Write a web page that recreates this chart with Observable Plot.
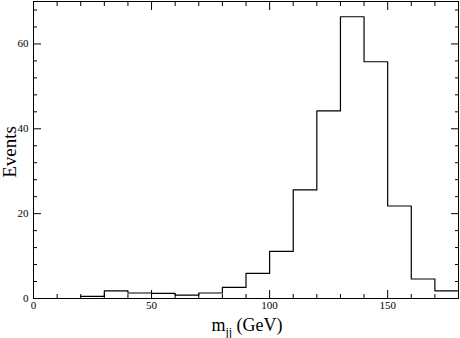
<!DOCTYPE html>
<html>
<head>
<meta charset="utf-8">
<script src="https://cdn.jsdelivr.net/npm/d3@7"></script>
<script src="https://cdn.jsdelivr.net/npm/@observablehq/plot@0.6"></script>
<style>
  html, body { margin: 0; padding: 0; background: white; }
  svg { display: block; }
</style>
</head>
<body>
<div id="chart"></div>
<script>
// Histogram bins (left edges, GeV) and event counts
const binStart = [20, 30, 40, 50, 60, 70, 80, 90, 100, 110, 120, 130, 140, 150, 160, 170];
const binWidth = 10;
const counts = [0.5, 1.8, 1.3, 1.2, 0.8, 1.3, 2.6, 5.9, 11.1, 25.6, 44.2, 66.4, 55.8, 21.8, 4.6, 1.8];

// Axis ticks
const xMajor = [0, 50, 100, 150];
const xMinor = [10, 20, 30, 40, 60, 70, 80, 90, 110, 120, 130, 140, 160, 170];
const yMajor = [0, 20, 40, 60];
const yMinor = [4, 8, 12, 16, 24, 28, 32, 36, 44, 48, 52, 56, 64, 68];

const xLabel = "mjj (GeV)";
const yLabel = "Events";

// step data: each bin start plus closing edge
const steps = binStart.map((x, i) => ({x, y: counts[i]}));
steps.push({x: binStart[binStart.length - 1] + binWidth, y: counts[counts.length - 1]});

const blank = () => "";
const font = "'Liberation Serif', 'DejaVu Serif', serif";

const chart = Plot.plot({
  width: 460,
  height: 338,
  marginLeft: 33,
  marginRight: 2,
  marginTop: 1,
  marginBottom: 40,
  style: {fontFamily: font, background: "white", color: "black"},
  x: {domain: [0, 180]},
  y: {domain: [0, 70]},
  marks: [
    // tick labels
    Plot.axisX({anchor: "bottom", ticks: xMajor, tickSize: 0, tickPadding: 3, fontSize: 11, fontFamily: font, label: null}),
    Plot.axisY({anchor: "left", ticks: yMajor, tickSize: 0, tickPadding: 5, fontSize: 11, fontFamily: font, label: null}),
    // inward ticks on all four sides
    Plot.axisX({anchor: "bottom", ticks: xMajor, tickSize: -8, tickFormat: blank, label: null}),
    Plot.axisX({anchor: "bottom", ticks: xMinor, tickSize: -4, tickFormat: blank, label: null}),
    Plot.axisX({anchor: "top", ticks: xMajor, tickSize: -8, tickFormat: blank, label: null}),
    Plot.axisX({anchor: "top", ticks: xMinor, tickSize: -4, tickFormat: blank, label: null}),
    Plot.axisY({anchor: "left", ticks: yMajor, tickSize: -8, tickFormat: blank, label: null}),
    Plot.axisY({anchor: "left", ticks: yMinor, tickSize: -4, tickFormat: blank, label: null}),
    Plot.axisY({anchor: "right", ticks: yMajor, tickSize: -8, tickFormat: blank, label: null}),
    Plot.axisY({anchor: "right", ticks: yMinor, tickSize: -4, tickFormat: blank, label: null}),
    Plot.line(steps, {x: "x", y: "y", curve: "step-after", stroke: "black", strokeWidth: 1.2}),
    Plot.frame({stroke: "black", strokeWidth: 1}),
    Plot.text([yLabel], {text: d => d, frameAnchor: "left", textAnchor: "middle", dx: -18, dy: 2, rotate: -90, lineAnchor: "bottom", fontSize: 19, fill: "black"}),
    Plot.text([xLabel], {text: d => d, frameAnchor: "bottom", textAnchor: "middle", dx: 1, dy: 32.5, lineAnchor: "bottom", fontSize: 18, fill: "black"})
  ]
});

document.getElementById("chart").appendChild(chart);

// subscript for m_jj
d3.select(chart).selectAll("text").filter(function() { return this.textContent === xLabel; }).each(function() {
  const t = d3.select(this);
  t.text(null);
  t.append("tspan").text("m");
  t.append("tspan").attr("dy", 5).attr("font-size", 12).text("jj");
  t.append("tspan").attr("dy", -5).text(" (GeV)");
});
</script>
</body>
</html>
